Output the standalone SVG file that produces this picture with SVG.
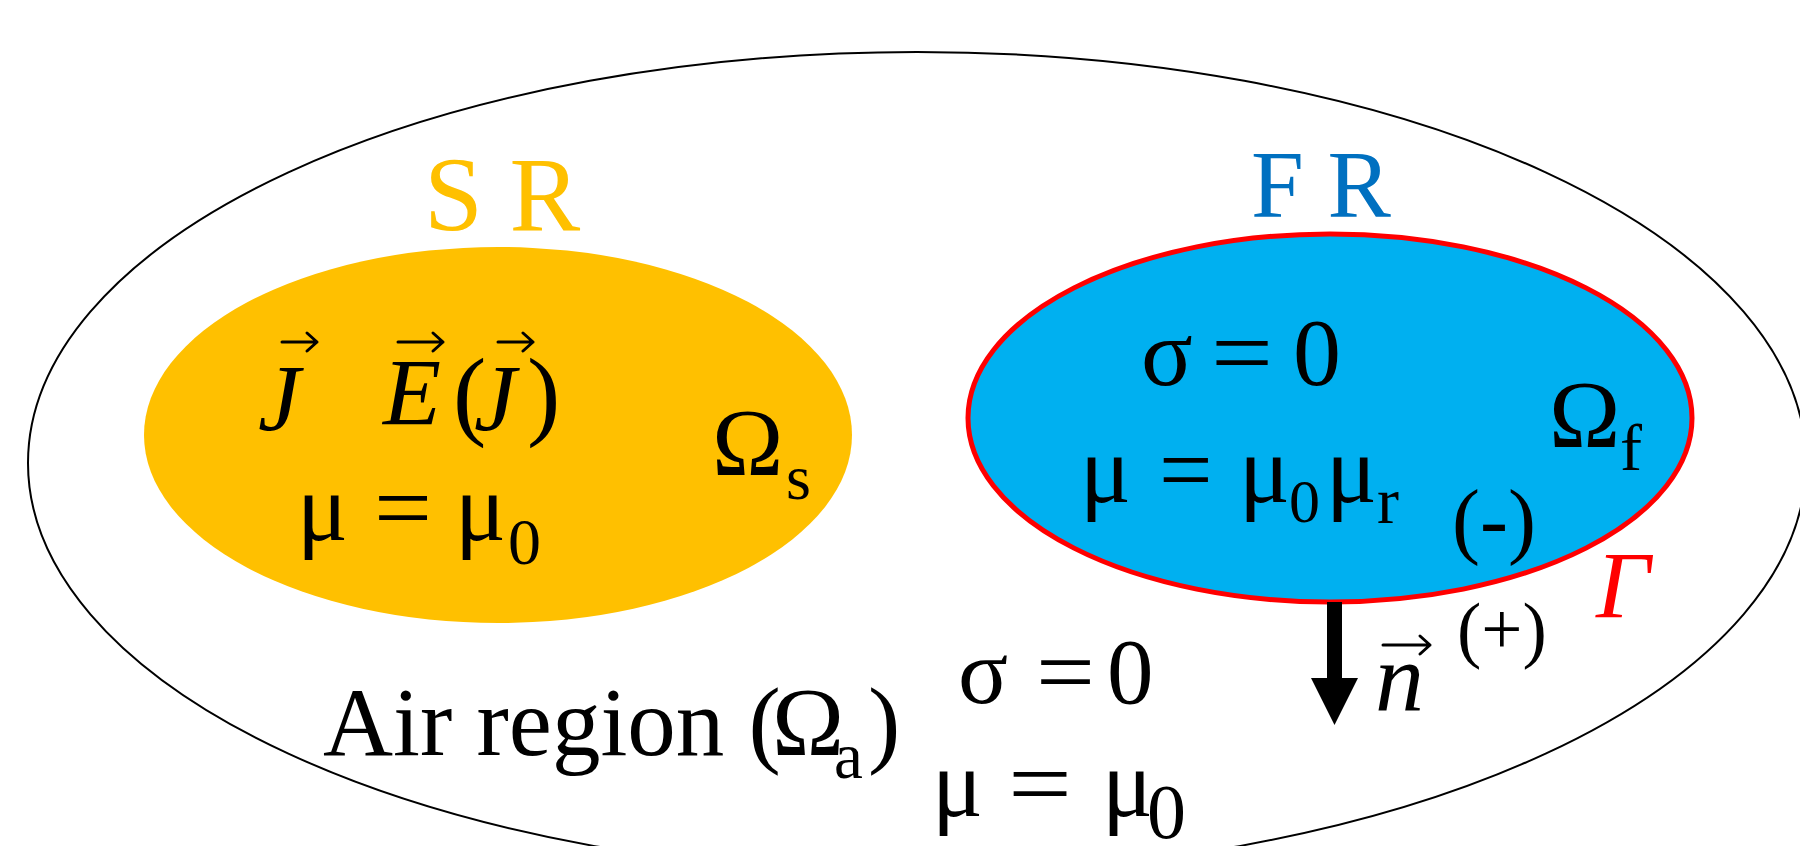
<svg xmlns="http://www.w3.org/2000/svg" width="1800" height="846" viewBox="0 0 1800 846">
<style>
text { font-family: "Liberation Serif", "Times New Roman", serif; fill: #000; }
.it { font-style: italic; }
.vec { fill: none; stroke: #000; stroke-width: 3; stroke-linecap: round; stroke-linejoin: round; }
</style>
<rect width="1800" height="846" fill="#fff"/>
<g id="air-region">
  <ellipse cx="917" cy="463" rx="889" ry="411" fill="none" stroke="#000" stroke-width="2"/>
  <text x="323" y="755" font-size="97">Air region (<tspan dx="-9">Ω</tspan><tspan dx="-10" dy="23" font-size="65">a</tspan><tspan dx="5" dy="-23">)</tspan></text>
  <text font-size="93"><tspan x="958" y="703">σ</tspan><tspan x="1036" y="703" textLength="59" lengthAdjust="spacingAndGlyphs">=</tspan><tspan x="1107" y="703">0</tspan></text>
  <text font-size="95"><tspan x="932" y="816">μ</tspan><tspan x="1008" y="816" textLength="64" lengthAdjust="spacingAndGlyphs">=</tspan><tspan x="1102" y="816">μ</tspan><tspan x="1147" y="838" font-size="78">0</tspan></text>
</g>
<g id="source-region">
  <ellipse cx="498" cy="435" rx="354" ry="188" fill="#FFC000"/>
  <text x="424" y="230" font-size="106" style="fill:#FFC000">S R</text>
  <text font-size="95"><tspan class="it" x="258" y="431">J</tspan><tspan class="it" x="383" y="425">E</tspan><tspan x="453" y="427" font-size="100">(</tspan><tspan class="it" x="474" y="431">J</tspan><tspan x="527" y="427" font-size="100">)</tspan></text>
  <path class="vec" d="M282 342 H317 M307 333 L317 342 L307 351"/>
  <path class="vec" d="M398 342 H443 M433 333 L443 342 L433 351"/>
  <path class="vec" d="M498 342 H533 M523 333 L533 342 L523 351"/>
  <text font-size="95"><tspan x="297" y="540">μ</tspan><tspan x="374" y="540" textLength="58" lengthAdjust="spacingAndGlyphs">=</tspan><tspan x="455" y="540">μ</tspan><tspan x="508" y="564" font-size="66">0</tspan></text>
  <text font-size="96"><tspan x="712" y="475">Ω</tspan><tspan x="786" y="499" font-size="64">s</tspan></text>
</g>
<g id="fluid-region">
  <ellipse cx="1330" cy="418" rx="362" ry="184" fill="#00B0F0" stroke="#FF0000" stroke-width="5"/>
  <text x="1251" y="217" font-size="95" style="fill:#0070C0">F R</text>
  <text font-size="96"><tspan x="1141" y="385">σ</tspan><tspan x="1211" y="385" textLength="62" lengthAdjust="spacingAndGlyphs">=</tspan><tspan x="1293" y="385">0</tspan></text>
  <text font-size="95"><tspan x="1080" y="502">μ</tspan><tspan x="1159" y="502">=</tspan><tspan x="1239" y="502">μ</tspan><tspan x="1289" y="522" font-size="62">0</tspan><tspan x="1326" y="502">μ</tspan><tspan x="1377" y="523" font-size="66">r</tspan></text>
  <text font-size="96"><tspan x="1549" y="447">Ω</tspan><tspan x="1620" y="470" font-size="66">f</tspan></text>
  <text x="1452" y="548" font-size="84">(-)</text>
  <text class="it" x="1596" y="618" font-size="95" style="fill:#FF0000">Γ</text>
</g>
<g id="connectors">
  <path d="M1327 602 H1342 V678 H1358 L1334.5 725 L1311 678 H1327 Z" fill="#000"/>
</g>
<g id="normal-label">
  <text class="it" x="1375" y="710" font-size="98">n</text>
  <path class="vec" d="M1383 645 H1430 M1420 636 L1430 645 L1420 654"/>
  <text x="1457" y="654" font-size="73">(+)</text>
</g>
</svg>
